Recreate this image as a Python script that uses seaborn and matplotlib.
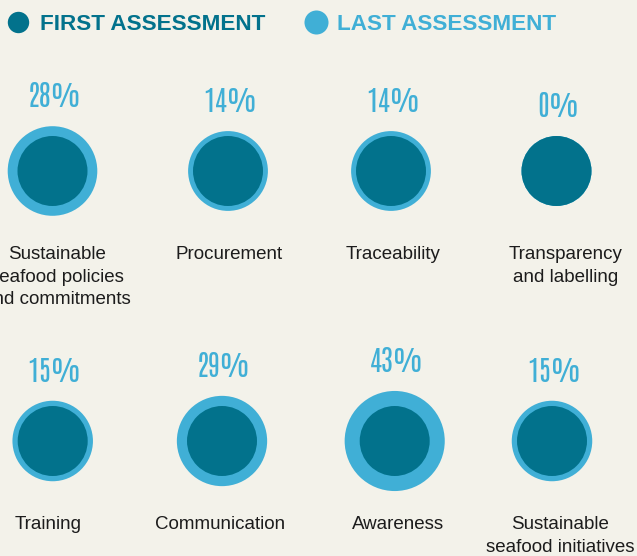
import numpy as np
import pandas as pd
import matplotlib
matplotlib.use("Agg")
import matplotlib.pyplot as plt
from matplotlib.lines import Line2D
import seaborn as sns

# data
categories = ["Sustainable\nseafood policies\nand commitments", "Procurement", "Traceability",
              "Transparency\nand labelling", "Training", "Communication", "Awareness",
              "Sustainable\nseafood initiatives"]
improvement = [28, 14, 14, 0, 15, 29, 43, 15]   # % change from first to last assessment
first_assessment = [100] * 8                    # baseline (same size for every area)

# colours
BG = "#f3f2ea"
DARK = "#02728c"
LIGHT = "#40afd6"
TEXT = "#1c1c1c"

sns.set_theme(style="white")
plt.rcParams["font.family"] = ["Liberation Sans", "DejaVu Sans"]
PCT_FONT = ["Antonio", "Oswald", "Liberation Sans Narrow", "Liberation Sans"]

W, H, DPI = 637, 556, 100
fig = plt.figure(figsize=(W / DPI, H / DPI), dpi=DPI, facecolor=BG)
ax = fig.add_axes([0, 0, 1, 1])
ax.set_facecolor(BG)
ax.set_xlim(0, W)
ax.set_ylim(H, 0)
ax.axis("off")

# grid layout (pixels)
cx = [52.5, 228, 391, 556.5, 52.7, 222, 394.7, 552]
cy = [171] * 4 + [441] * 4
label_dx = [4.5, 1.5, 2.5, 9, -4.7, -2, 3.3, 8]
base_r = 35  # radius (px) of a first-assessment circle

df = pd.DataFrame({"category": categories, "improvement": improvement,
                   "first": first_assessment, "x": cx, "y": cy})
df["r_first"] = base_r * df["first"] / 100
df["r_last"] = df["r_first"] * (1 + df["improvement"] / 100)

px2pt = 72 / DPI
s_last = (2 * df["r_last"] * px2pt) ** 2
s_first = (2 * df["r_first"] * px2pt) ** 2

sns.scatterplot(data=df, x="x", y="y", s=s_last, color=LIGHT, linewidth=0, ax=ax, legend=False)
sns.scatterplot(data=df, x="x", y="y", s=s_first, color=DARK, linewidth=0, ax=ax, legend=False)

for _, row in df.iterrows():
    ax.text(row["x"] + 2, row["y"] - row["r_last"] - 30, f"{row['improvement']}%",
            ha="center", va="center", color=LIGHT, fontsize=20.5, fontweight="semibold",
            family=PCT_FONT)

for i, row in df.iterrows():
    ax.text(row["x"] + label_dx[i], row["y"] + 75, row["category"], ha="center", va="top",
            color=TEXT, fontsize=13.5, linespacing=1.43)

# legend
handles = [Line2D([], [], marker="o", ls="", markersize=15.4, mfc=DARK, mec="none"),
           Line2D([], [], marker="o", ls="", markersize=17.3, mfc=LIGHT, mec="none")]
ax.legend(handles, ["FIRST ASSESSMENT", "LAST ASSESSMENT"], ncol=2, loc="center left",
          bbox_to_anchor=(6.5 / W, 1 - 24 / H), frameon=False,
          prop={"family": "Liberation Sans", "weight": "bold", "size": 16.2},
          labelcolor=[DARK, LIGHT], handlelength=1.0, handletextpad=0.47,
          columnspacing=1.75, borderpad=0, borderaxespad=0)

fig.savefig("out.png", dpi=DPI, facecolor=BG)
